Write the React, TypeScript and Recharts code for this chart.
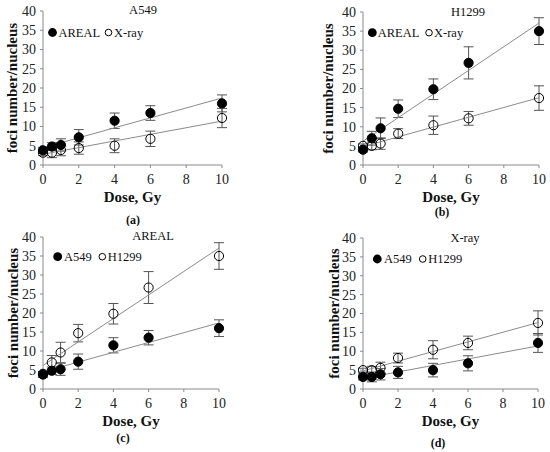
import React from 'react';
import { ScatterChart, Scatter, XAxis, YAxis, ErrorBar } from 'recharts';

// doses (Gy) shared by every series
const doses = [0, 0.5, 1, 2, 4, 6, 10];
const fitDoses = [0, 10];

const a549Areal = [3.8, 4.8, 5.2, 7.2, 11.5, 13.5, 16.0];
const a549ArealErr = [0.8, 1.0, 1.6, 2.0, 2.0, 1.9, 2.2];
const a549Xray = [3.2, 3.2, 3.9, 4.4, 5.0, 6.8, 12.2];
const a549XrayErr = [0.8, 1.3, 1.5, 1.6, 1.8, 2.0, 2.5];
const h1299Areal = [4.0, 7.0, 9.6, 14.7, 19.8, 26.7, 35.0];
const h1299ArealErr = [0.6, 1.8, 2.7, 2.3, 2.7, 4.2, 3.5];
const h1299Xray = [5.0, 5.0, 5.6, 8.2, 10.4, 12.2, 17.5];
const h1299XrayErr = [0.5, 1.0, 1.5, 1.3, 2.4, 1.8, 3.2];

// trend line ends read at dose 0 and 10
const a549ArealFit = [4.5, 17.4];
const a549XrayFit = [2.8, 11.4];
const h1299ArealFit = [6.2, 37.1];
const h1299XrayFit = [4.8, 17.6];

const xTicks = [0, 2, 4, 6, 8, 10];
const yTicks = [0, 5, 10, 15, 20, 25, 30, 35, 40];

const toPts = (ys: number[], errs: number[]) => doses.map((x, i) => ({ x, y: ys[i], e: errs[i] }));
const toFit = (ends: number[]) => fitDoses.map((x, i) => ({ x, y: ends[i] }));

const W = 275;
const H = 226;
const FONT = "'Liberation Serif', 'Times New Roman', serif";

const filledDot = (p: any) => <circle cx={p.cx} cy={p.cy} r={4.6} fill="#000" stroke="#000" />;
const openDot = (p: any) => <circle cx={p.cx} cy={p.cy} r={4.6} fill="none" stroke="#000" strokeWidth={1} />;
const noDot = () => <g />;

const panels = [
  {
    key: 'a', left: 0, top: 0, plot: { l: 43, r: 222, t: 11, b: 165 }, yLabelX: 12,
    title: 'A549', titlePos: [143, 14], caption: '(a)', capPos: [133, 224],
    names: ['AREAL', 'X-ray'], legend: { y: 32.5, c1: 52.5, t1: 58.5, c2: 108.5, t2: 114 },
    filled: toPts(a549Areal, a549ArealErr), open: toPts(a549Xray, a549XrayErr),
    fits: [toFit(a549ArealFit), toFit(a549XrayFit)],
  },
  {
    key: 'b', left: 275, top: 0, plot: { l: 88, r: 264, t: 12, b: 165 }, yLabelX: 53,
    title: 'H1299', titlePos: [193, 16], caption: '(b)', capPos: [167, 216],
    names: ['AREAL', 'X-ray'], legend: { y: 32.7, c1: 97.3, t1: 102.7, c2: 154, t2: 159 },
    filled: toPts(h1299Areal, h1299ArealErr), open: toPts(h1299Xray, h1299XrayErr),
    fits: [toFit(h1299ArealFit), toFit(h1299XrayFit)],
  },
  {
    key: 'c', left: 0, top: 226, plot: { l: 43, r: 219, t: 11, b: 163 }, yLabelX: 13,
    title: 'AREAL', titlePos: [153, 14], caption: '(c)', capPos: [123, 216],
    names: ['A549', 'H1299'], legend: { y: 30.7, c1: 57.7, t1: 64, c2: 102.3, t2: 107.7 },
    filled: toPts(a549Areal, a549ArealErr), open: toPts(h1299Areal, h1299ArealErr),
    fits: [toFit(a549ArealFit), toFit(h1299ArealFit)],
  },
  {
    key: 'd', left: 275, top: 226, plot: { l: 88, r: 263, t: 12, b: 163 }, yLabelX: 59,
    title: 'X-ray', titlePos: [190, 16], caption: '(d)', capPos: [163, 221],
    names: ['A549', 'H1299'], legend: { y: 33, c1: 102.3, t1: 109, c2: 147.7, t2: 153.3 },
    filled: toPts(a549Xray, a549XrayErr), open: toPts(h1299Xray, h1299XrayErr),
    fits: [toFit(a549XrayFit), toFit(h1299XrayFit)],
  },
];

const Panel = ({ p }: { p: (typeof panels)[number] }) => {
  const xAxisH = 40;
  const margin = { top: p.plot.t, right: W - p.plot.r, bottom: H - p.plot.b - xAxisH, left: 0 };
  const axisStroke = '#8a8a8a';
  const tick = { fontSize: 14, fill: '#222', fontFamily: FONT };
  return (
    <div style={{ position: 'absolute', left: p.left, top: p.top, width: W, height: H }}>
      <ScatterChart width={W} height={H} margin={margin}>
        <XAxis
          type="number" dataKey="x" domain={[0, 10]} ticks={xTicks} interval={0}
          height={xAxisH} stroke={axisStroke} tickSize={3} tickMargin={6} tick={tick}
          label={{ value: 'Dose, Gy', position: 'insideBottom', offset: 3, style: { fontSize: 15, fontWeight: 'bold', fill: '#111', fontFamily: FONT } }}
        />
        <YAxis
          type="number" dataKey="y" domain={[0, 40]} ticks={yTicks} interval={0}
          width={p.plot.l} stroke={axisStroke} tickSize={3} tickMargin={4} tick={tick}
          label={{ value: 'foci number/nucleus', angle: -90, position: 'insideLeft', offset: p.yLabelX, style: { textAnchor: 'middle', fontSize: 15, fontWeight: 'bold', fill: '#111', fontFamily: FONT } }}
        />
        {p.fits.map((f, i) => (
          <Scatter key={`fit-${i}`} data={f} line={{ stroke: '#8c8c8c', strokeWidth: 1 }} shape={noDot} isAnimationActive={false} />
        ))}
        <Scatter data={p.open} shape={openDot} isAnimationActive={false}>
          <ErrorBar dataKey="e" direction="y" width={5} stroke="#555" strokeWidth={1} />
        </Scatter>
        <Scatter data={p.filled} shape={filledDot} isAnimationActive={false}>
          <ErrorBar dataKey="e" direction="y" width={5} stroke="#555" strokeWidth={1} />
        </Scatter>
      </ScatterChart>
      <svg width={W} height={H} style={{ position: 'absolute', left: 0, top: 0, pointerEvents: 'none', fontFamily: FONT }}>
        <text x={p.titlePos[0]} y={p.titlePos[1]} fontSize={12.5} textAnchor="middle" fill="#111">{p.title}</text>
        <circle cx={p.legend.c1} cy={p.legend.y} r={4.4} fill="#000" />
        <text x={p.legend.t1} y={p.legend.y + 4.3} fontSize={12.5} fill="#111">{p.names[0]}</text>
        <circle cx={p.legend.c2} cy={p.legend.y} r={3.3} fill="none" stroke="#000" />
        <text x={p.legend.t2} y={p.legend.y + 4.3} fontSize={12.5} fill="#111">{p.names[1]}</text>
        <text x={p.capPos[0]} y={p.capPos[1]} fontSize={12} fontWeight="bold" textAnchor="middle" fill="#111">{p.caption}</text>
      </svg>
    </div>
  );
};

export default function App() {
  return (
    <div style={{ position: 'absolute', left: 0, top: 0, width: 550, height: 452, background: '#fff', fontFamily: FONT }}>
      {panels.map((p) => (
        <Panel key={p.key} p={p} />
      ))}
    </div>
  );
}
